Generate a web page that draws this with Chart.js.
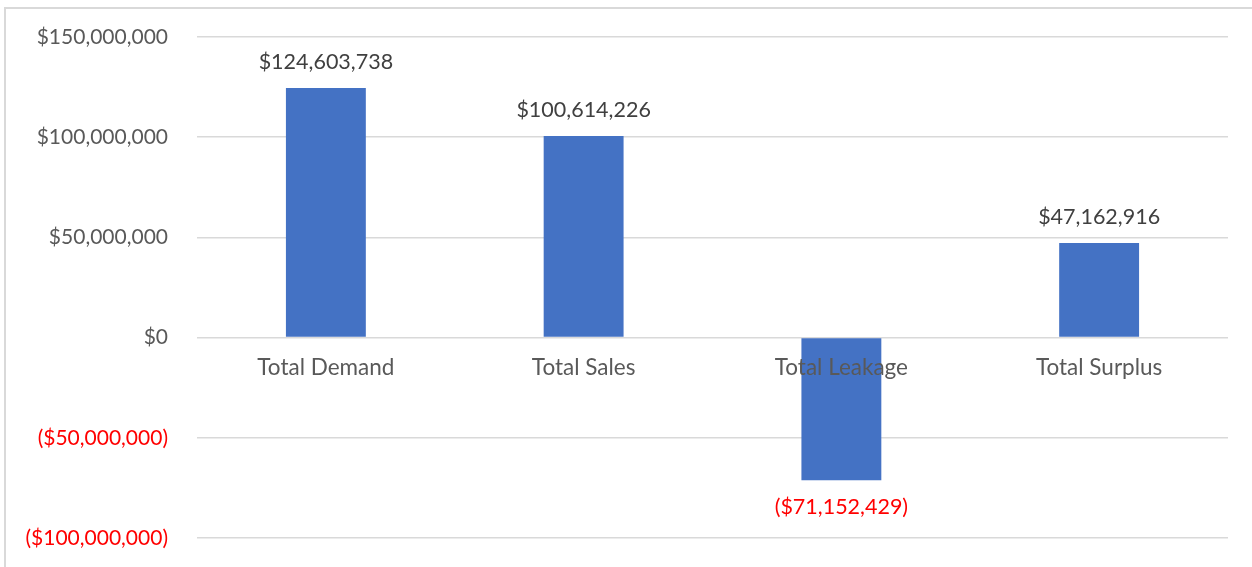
<!DOCTYPE html>
<html lang="en">
<head>
    <meta charset="UTF-8">
    <title>Total Demand, Sales, Leakage and Surplus</title>
    <script src="https://cdn.jsdelivr.net/npm/chart.js"></script>
    <style>
        body { margin: 0; background: #fff; overflow: hidden; }
        #frame {
            position: absolute; left: 4px; top: 7px;
            width: 1400px; height: 700px;
            border: 2px solid #d9d9d9;
        }
        #wrap { position: absolute; left: 0; top: 0; width: 1252px; height: 567px; }
    </style>
</head>
<body>
    <div id="frame"></div>
    <div id="wrap"><canvas id="chart" width="1252" height="567"></canvas></div>

    <script>
        // dati
        const categories = ['Total Demand', 'Total Sales', 'Total Leakage', 'Total Surplus'];
        const values = [124603738, 100614226, -71152429, 47162916];
        const yTicks = [150000000, 100000000, 50000000, 0, -50000000, -100000000];

        const fontFamily = 'Lato, "Open Sans", sans-serif';

        function money(v) {
            const s = '$' + Math.abs(v).toLocaleString('en-US');
            return v < 0 ? '(' + s + ')' : s;
        }

        // etichette sopra/sotto le barre
        const barLabels = {
            id: 'barLabels',
            afterDatasetsDraw(chart) {
                const ctx = chart.ctx;
                const meta = chart.getDatasetMeta(0);
                ctx.save();
                ctx.font = '21.5px ' + fontFamily;
                ctx.textAlign = 'center';
                ctx.textBaseline = 'middle';
                meta.data.forEach((bar, i) => {
                    const v = values[i];
                    ctx.fillStyle = v < 0 ? '#ff0000' : '#404040';
                    const y = v < 0 ? bar.y + 27 : bar.y - 26;
                    ctx.fillText(money(v), bar.x, y);
                });
                ctx.restore();
            }
        };

        const ctx = document.getElementById('chart').getContext('2d');
        const chart = new Chart(ctx, {
            type: 'bar',
            data: {
                labels: categories,
                datasets: [{
                    data: values,
                    backgroundColor: '#4472c4',
                    borderWidth: 0,
                    barPercentage: 0.62,
                    categoryPercentage: 0.5
                }]
            },
            options: {
                responsive: false,
                animation: false,
                layout: { padding: { left: 0, right: 24, top: 37, bottom: 29 } },
                plugins: {
                    legend: { display: false },
                    tooltip: { enabled: false }
                },
                scales: {
                    x: {
                        position: { y: 0 },
                        grid: { display: false },
                        border: { display: false },
                        ticks: {
                            z: 1,
                            color: '#595959',
                            font: { family: fontFamily, size: 22.5 },
                            padding: 9
                        },
                        afterFit: s => { s.height = 0; }
                    },
                    y: {
                        min: -100000000,
                        max: 150000000,
                        afterBuildTicks: s => { s.ticks = yTicks.map(v => ({ value: v })); },
                        grid: {
                            color: '#d9d9d9', lineWidth: 1.5,
                            drawTicks: true, tickLength: 29, tickColor: 'rgba(0,0,0,0)'
                        },
                        border: { display: false },
                        ticks: {
                            padding: 0,
                            font: { family: fontFamily, size: 21 },
                            color: c => c.tick.value < 0 ? '#ff0000' : '#595959',
                            callback: v => money(v)
                        },
                        afterFit: s => { s.width = 197; }
                    }
                }
            },
            plugins: [barLabels]
        });
    </script>
</body>
</html>
